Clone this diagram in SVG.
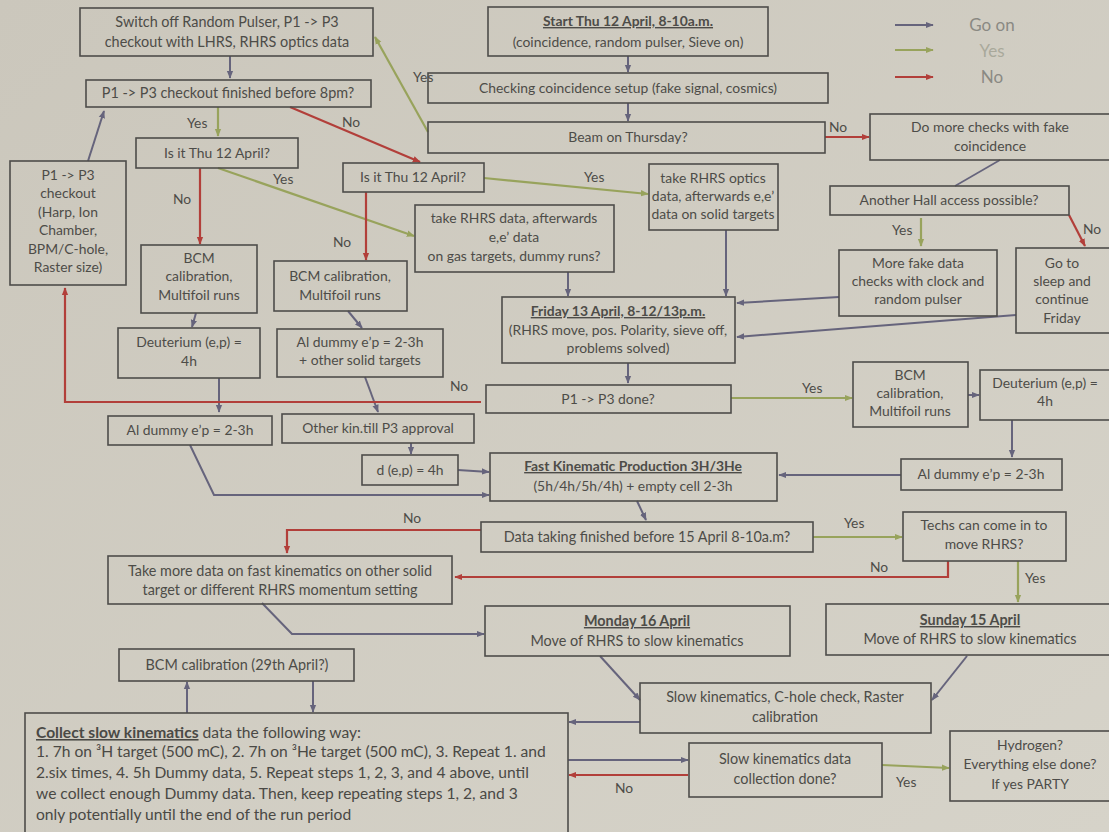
<svg xmlns="http://www.w3.org/2000/svg" width="1109" height="832" viewBox="0 0 1109 832">
<defs>
<linearGradient id="bg" x1="0" y1="0" x2="1" y2="1">
<stop offset="0" stop-color="#cbc7bc"/>
<stop offset="1" stop-color="#d6d3c9"/>
</linearGradient>
<marker id="mg" viewBox="0 0 10 10" refX="9" refY="5" markerWidth="8" markerHeight="8" markerUnits="userSpaceOnUse" orient="auto"><path d="M0,1 L10,5 L0,9 z" fill="#66647c"/></marker>
<marker id="my" viewBox="0 0 10 10" refX="9" refY="5" markerWidth="8" markerHeight="8" markerUnits="userSpaceOnUse" orient="auto"><path d="M0,1 L10,5 L0,9 z" fill="#98a35c"/></marker>
<marker id="mn" viewBox="0 0 10 10" refX="9" refY="5" markerWidth="8" markerHeight="8" markerUnits="userSpaceOnUse" orient="auto"><path d="M0,1 L10,5 L0,9 z" fill="#b23f3a"/></marker>
</defs>
<style>
.box{fill:none;stroke:#4e4d4a;stroke-width:1.6}
.t{font-family:Lato,"Open Sans","Liberation Sans",sans-serif;font-size:13.9px;fill:#4d4c48;text-anchor:middle}
.m{font-size:14.4px}
.tl{font-family:Lato,"Open Sans","Liberation Sans",sans-serif;font-size:15.6px;fill:#4a4945}
.b{font-weight:bold;text-decoration:underline}
.lb{font-family:Lato,"Open Sans","Liberation Sans",sans-serif;font-size:13.8px;fill:#4d4c48}
.go{fill:none;stroke:#66647c;stroke-width:2;marker-end:url(#mg)}
.gl{fill:none;stroke:#66647c;stroke-width:1.6}
.yes{fill:none;stroke:#98a35c;stroke-width:2.2;marker-end:url(#my)}
.no{fill:none;stroke:#b23f3a;stroke-width:2.2;marker-end:url(#mn)}
.leg{font-family:Lato,"Open Sans","Liberation Sans",sans-serif;font-size:17px;fill:#8a8983;text-anchor:middle}
</style>
<rect x="0" y="0" width="1109" height="832" fill="url(#bg)"/>

<g id="legend">
<path d="M895,25 H933" class="go"/>
<path d="M895,50 H933" class="yes"/>
<path d="M895,77 H933" class="no"/>
<text x="992" y="31" class="leg">Go on</text>
<text x="992" y="57" class="leg" style="fill:#a9a99b">Yes</text>
<text x="992" y="83" class="leg">No</text>
</g>

<g id="connectors">
<path d="M230,56 V78" class="go"/>
<path d="M628,56 V72" class="go"/>
<path d="M628,103 V121" class="go"/>
<path d="M428,132 L375,37" class="yes"/>
<path d="M825,137 H869" class="no"/>
<path d="M1000,160 L955,186" class="gl"/>
<path d="M921,218 V246" class="yes"/>
<path d="M1069,215 L1085,246" class="no"/>
<path d="M839,297 L737,303" class="go"/>
<path d="M1016,315 L737,337" class="go"/>
<path d="M218,107 V136" class="yes"/>
<path d="M290,107 L420,162" class="no"/>
<path d="M200,168 V244" class="no"/>
<path d="M218,168 L414,236" class="yes"/>
<path d="M366,192 V260" class="no"/>
<path d="M484,178 L648,194" class="yes"/>
<path d="M568,272 V296" class="go"/>
<path d="M726,230 V296" class="go"/>
<path d="M88,161 L104,111" class="go"/>
<path d="M196,313 L192,327" class="go"/>
<path d="M348,311 L362,328" class="go"/>
<path d="M219,378 V412" class="go"/>
<path d="M365,377 L378,412" class="go"/>
<path d="M411,443 V454" class="go"/>
<path d="M458,470 L489,472" class="go"/>
<path d="M190,445 L214,495 H489" class="go"/>
<path d="M628,363 V383" class="go"/>
<path d="M481,402 H65 V288" class="no"/>
<path d="M731,398 H852" class="yes"/>
<path d="M968,395 H979" class="go"/>
<path d="M1012,420 V457" class="go"/>
<path d="M901,475 H779" class="go"/>
<path d="M637,501 L646,520" class="go"/>
<path d="M813,537 H902" class="yes"/>
<path d="M481,530 H287 V553" class="no"/>
<path d="M948,561 V577 H455" class="no"/>
<path d="M1018,561 V602" class="yes"/>
<path d="M262,603 L292,634 H484" class="go"/>
<path d="M600,656 L640,700" class="go"/>
<path d="M967,656 L932,700" class="go"/>
<path d="M640,722 H569" class="go"/>
<path d="M568,760 H688" class="go"/>
<path d="M688,775 H569" class="no"/>
<path d="M882,765 L949,768" class="yes"/>
<path d="M187,713 V682" class="go"/>
<path d="M313,681 V712" class="go"/>
</g>

<g id="labels">
<text x="413" y="82" class="lb">Yes</text>
<text x="829" y="132" class="lb">No</text>
<text x="187" y="128" class="lb">Yes</text>
<text x="342" y="127" class="lb">No</text>
<text x="173" y="204" class="lb">No</text>
<text x="273" y="184" class="lb">Yes</text>
<text x="333" y="247" class="lb">No</text>
<text x="584" y="182" class="lb">Yes</text>
<text x="892" y="235" class="lb">Yes</text>
<text x="1083" y="234" class="lb">No</text>
<text x="450" y="391" class="lb">No</text>
<text x="802" y="393" class="lb">Yes</text>
<text x="403" y="523" class="lb">No</text>
<text x="844" y="528" class="lb">Yes</text>
<text x="870" y="572" class="lb">No</text>
<text x="1025" y="583" class="lb">Yes</text>
<text x="615" y="793" class="lb">No</text>
<text x="896" y="787" class="lb">Yes</text>
</g>

<g id="n_switch"><rect x="80" y="8" width="293" height="48" class="box"/>
<text x="227" y="27" class="t m">Switch off Random Pulser, P1 -&gt; P3</text>
<text x="227" y="47" class="t m">checkout with LHRS, RHRS optics data</text></g>

<g id="n_start"><rect x="488" y="7" width="280" height="49" class="box"/>
<text x="628" y="26" class="t b">Start Thu 12 April, 8-10a.m.</text>
<text x="628" y="47" class="t">(coincidence, random pulser, Sieve on)</text></g>

<g id="n_checking"><rect x="428" y="73" width="400" height="30" class="box"/>
<text x="628" y="93" class="t">Checking coincidence setup (fake signal, cosmics)</text></g>

<g id="n_beam"><rect x="428" y="122" width="397" height="31" class="box"/>
<text x="628" y="142" class="t">Beam on Thursday?</text></g>

<g id="n_morechecks"><rect x="870" y="114" width="245" height="46" class="box"/>
<text x="990" y="132" class="t">Do more checks with fake</text>
<text x="990" y="151" class="t">coincidence</text></g>

<g id="n_finished8pm"><rect x="86" y="80" width="285" height="27" class="box"/>
<text x="228" y="98" class="t m">P1 -&gt; P3 checkout finished before 8pm?</text></g>

<g id="n_thu_left"><rect x="136" y="138" width="162" height="30" class="box"/>
<text x="217" y="158" class="t">Is it Thu 12 April?</text></g>

<g id="n_thu_mid"><rect x="343" y="163" width="141" height="29" class="box"/>
<text x="413" y="182" class="t">Is it Thu 12 April?</text></g>

<g id="n_optics"><rect x="649" y="164" width="129" height="66" class="box"/>
<text x="713" y="183" class="t">take RHRS optics</text>
<text x="713" y="201" class="t">data, afterwards e,e’</text>
<text x="713" y="219" class="t">data on solid targets</text></g>

<g id="n_hall"><rect x="830" y="186" width="239" height="29" class="box"/>
<text x="949" y="205" class="t">Another Hall access possible?</text></g>

<g id="n_checkout"><rect x="10" y="161" width="116" height="124" class="box"/>
<text x="68" y="180" class="t">P1 -&gt; P3</text>
<text x="68" y="198" class="t">checkout</text>
<text x="68" y="217" class="t">(Harp, Ion</text>
<text x="68" y="235" class="t">Chamber,</text>
<text x="68" y="254" class="t">BPM/C-hole,</text>
<text x="68" y="272" class="t">Raster size)</text></g>

<g id="n_gas"><rect x="415" y="205" width="199" height="67" class="box"/>
<text x="514" y="223" class="t">take RHRS data, afterwards</text>
<text x="514" y="242" class="t">e,e’ data</text>
<text x="514" y="261" class="t">on gas targets, dummy runs?</text></g>

<g id="n_bcm_left"><rect x="141" y="245" width="116" height="68" class="box"/>
<text x="199" y="263" class="t">BCM</text>
<text x="199" y="281" class="t">calibration,</text>
<text x="199" y="300" class="t">Multifoil runs</text></g>

<g id="n_bcm_mid"><rect x="274" y="261" width="133" height="50" class="box"/>
<text x="340" y="281" class="t">BCM calibration,</text>
<text x="340" y="300" class="t">Multifoil runs</text></g>

<g id="n_fakedata"><rect x="839" y="250" width="158" height="66" class="box"/>
<text x="918" y="268" class="t">More fake data</text>
<text x="918" y="286" class="t">checks with clock and</text>
<text x="918" y="304" class="t">random pulser</text></g>

<g id="n_sleep"><rect x="1016" y="248" width="99" height="85" class="box"/>
<text x="1062" y="268" class="t">Go to</text>
<text x="1062" y="286" class="t">sleep and</text>
<text x="1062" y="304" class="t">continue</text>
<text x="1062" y="323" class="t">Friday</text></g>

<g id="n_friday"><rect x="502" y="297" width="233" height="66" class="box"/>
<text x="618" y="316" class="t b">Friday 13 April, 8-12/13p.m.</text>
<text x="618" y="335" class="t">(RHRS move, pos. Polarity, sieve off,</text>
<text x="618" y="353" class="t">problems solved)</text></g>

<g id="n_deut_left"><rect x="118" y="328" width="142" height="50" class="box"/>
<text x="189" y="347" class="t">Deuterium (e,p) =</text>
<text x="189" y="366" class="t">4h</text></g>

<g id="n_aldummy_other"><rect x="277" y="329" width="166" height="48" class="box"/>
<text x="360" y="347" class="t">Al dummy e’p = 2-3h</text>
<text x="360" y="365" class="t">+ other solid targets</text></g>

<g id="n_p1p3done"><rect x="486" y="385" width="245" height="28" class="box"/>
<text x="608" y="404" class="t">P1 -&gt; P3 done?</text></g>

<g id="n_bcm_right"><rect x="853" y="362" width="115" height="65" class="box"/>
<text x="910" y="380" class="t">BCM</text>
<text x="910" y="398" class="t">calibration,</text>
<text x="910" y="416" class="t">Multifoil runs</text></g>

<g id="n_deut_right"><rect x="980" y="370" width="135" height="50" class="box"/>
<text x="1045" y="388" class="t">Deuterium (e,p) =</text>
<text x="1045" y="406" class="t">4h</text></g>

<g id="n_aldummy_left"><rect x="108" y="416" width="164" height="29" class="box"/>
<text x="190" y="435" class="t">Al dummy e’p = 2-3h</text></g>

<g id="n_otherkin"><rect x="282" y="414" width="192" height="29" class="box"/>
<text x="378" y="433" class="t">Other kin.till P3 approval</text></g>

<g id="n_dep"><rect x="362" y="455" width="96" height="30" class="box"/>
<text x="410" y="475" class="t">d (e,p) = 4h</text></g>

<g id="n_fastkin"><rect x="490" y="453" width="287" height="48" class="box"/>
<text x="633" y="471" class="t b">Fast Kinematic Production 3H/3He</text>
<text x="633" y="491" class="t">(5h/4h/5h/4h) + empty cell  2-3h</text></g>

<g id="n_aldummy_right"><rect x="901" y="459" width="161" height="31" class="box"/>
<text x="981" y="479" class="t">Al dummy e’p = 2-3h</text></g>

<g id="n_datataking"><rect x="481" y="522" width="332" height="30" class="box"/>
<text x="647" y="542" class="t m">Data taking finished before 15 April 8-10a.m?</text></g>

<g id="n_techs"><rect x="903" y="512" width="163" height="49" class="box"/>
<text x="984" y="530" class="t">Techs can come in to</text>
<text x="984" y="549" class="t">move RHRS?</text></g>

<g id="n_takemore"><rect x="108" y="556" width="344" height="48" class="box"/>
<text x="280" y="576" class="t m">Take more data on fast kinematics on other solid</text>
<text x="280" y="595" class="t m">target or different RHRS momentum setting</text></g>

<g id="n_monday"><rect x="485" y="606" width="305" height="50" class="box"/>
<text x="637" y="626" class="t m b">Monday 16 April</text>
<text x="637" y="646" class="t m">Move of RHRS to slow kinematics</text></g>

<g id="n_sunday"><rect x="826" y="604" width="289" height="51" class="box"/>
<text x="970" y="625" class="t m b">Sunday 15 April</text>
<text x="970" y="644" class="t m">Move of RHRS to slow kinematics</text></g>

<g id="n_bcm29"><rect x="119" y="649" width="235" height="32" class="box"/>
<text x="237" y="670" class="t m">BCM calibration (29th April?)</text></g>

<g id="n_slowkin"><rect x="640" y="683" width="291" height="50" class="box"/>
<text x="785" y="702" class="t m">Slow kinematics, C-hole check, Raster</text>
<text x="785" y="722" class="t m">calibration</text></g>

<g id="n_collect"><rect x="25" y="713" width="543" height="125" class="box"/>
<text x="36" y="738" class="tl"><tspan style="font-weight:bold;text-decoration:underline">Collect slow kinematics</tspan> data the following way:</text>
<text x="36" y="757" class="tl">1. 7h on ³H target (500 mC), 2. 7h on ³He target (500 mC), 3. Repeat 1. and</text>
<text x="36" y="778" class="tl">2.six times, 4. 5h Dummy data, 5. Repeat steps 1, 2, 3, and 4 above, until</text>
<text x="36" y="799" class="tl">we collect enough Dummy data. Then, keep repeating steps 1, 2, and 3</text>
<text x="36" y="820" class="tl">only potentially until the end of the run period</text></g>

<g id="n_slowdone"><rect x="689" y="743" width="193" height="54" class="box"/>
<text x="785" y="764" class="t m">Slow kinematics data</text>
<text x="785" y="784" class="t m">collection done?</text></g>

<g id="n_hydrogen"><rect x="950" y="731" width="165" height="70" class="box"/>
<text x="1030" y="750" class="t">Hydrogen?</text>
<text x="1030" y="769" class="t">Everything else done?</text>
<text x="1030" y="789" class="t">If yes PARTY</text></g>
</svg>
